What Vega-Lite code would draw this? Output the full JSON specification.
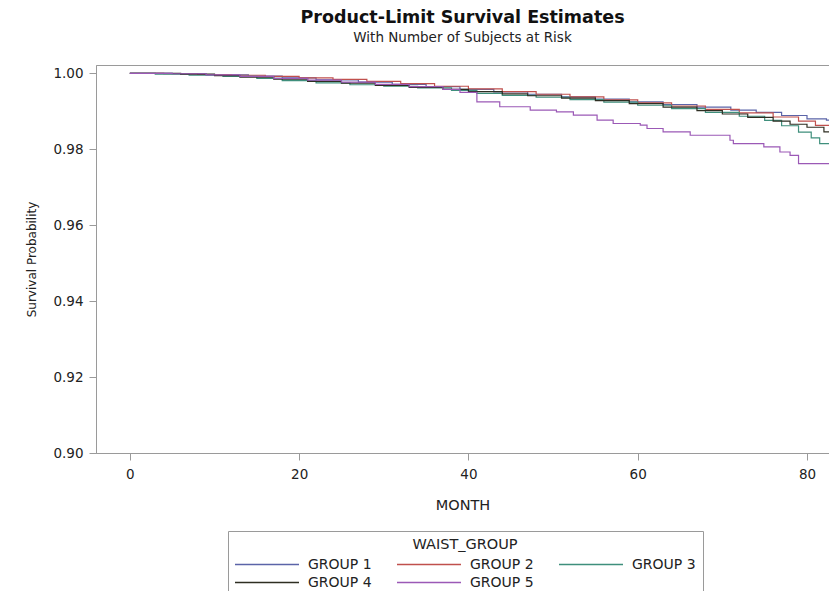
{
  "$schema": "https://vega.github.io/schema/vega-lite/v6.json",
  "autosize": "none",
  "width": 733,
  "height": 388,
  "padding": {"left": 96, "top": 65, "right": 0, "bottom": 138},
  "background": "white",
  "config": {
    "font": "DejaVu Sans",
    "view": {"stroke": "#9a9a9a", "strokeWidth": 1},
    "axis": {"grid": false, "domainColor": "#9a9a9a", "tickColor": "#9a9a9a", "labelColor": "#222", "titleColor": "#222", "labelFont": "DejaVu Sans", "titleFont": "DejaVu Sans", "titleFontWeight": "normal"}
  },
  "title": {
    "text": "Product-Limit Survival Estimates",
    "subtitle": "With Number of Subjects at Risk",
    "anchor": "middle",
    "fontSize": 17.5,
    "fontWeight": "bold",
    "subtitleFontSize": 13.5,
    "subtitleColor": "#222",
    "color": "#111",
    "offset": 21,
    "subtitlePadding": 4
  },
  "data": {"values": [
    {"g": "GROUP 1", "m": 0, "s": 1.0}, {"g": "GROUP 1", "m": 5, "s": 0.9999}, {"g": "GROUP 1", "m": 9, "s": 0.9996}, {"g": "GROUP 1", "m": 14, "s": 0.9993}, {"g": "GROUP 1", "m": 18, "s": 0.9988}, {"g": "GROUP 1", "m": 22, "s": 0.9983}, {"g": "GROUP 1", "m": 27, "s": 0.9977}, {"g": "GROUP 1", "m": 31, "s": 0.9971}, {"g": "GROUP 1", "m": 35, "s": 0.9965}, {"g": "GROUP 1", "m": 39, "s": 0.9958}, {"g": "GROUP 1", "m": 43, "s": 0.9951}, {"g": "GROUP 1", "m": 47, "s": 0.9945}, {"g": "GROUP 1", "m": 51, "s": 0.9938}, {"g": "GROUP 1", "m": 55, "s": 0.9932}, {"g": "GROUP 1", "m": 59, "s": 0.9925}, {"g": "GROUP 1", "m": 63, "s": 0.9918}, {"g": "GROUP 1", "m": 67, "s": 0.9911}, {"g": "GROUP 1", "m": 71, "s": 0.9903}, {"g": "GROUP 1", "m": 74, "s": 0.9897}, {"g": "GROUP 1", "m": 77, "s": 0.9889}, {"g": "GROUP 1", "m": 80, "s": 0.988}, {"g": "GROUP 1", "m": 82.3, "s": 0.9877}, {"g": "GROUP 1", "m": 83, "s": 0.9877},
    {"g": "GROUP 2", "m": 0, "s": 1.0}, {"g": "GROUP 2", "m": 4, "s": 0.9999}, {"g": "GROUP 2", "m": 8, "s": 0.9997}, {"g": "GROUP 2", "m": 12, "s": 0.9995}, {"g": "GROUP 2", "m": 16, "s": 0.9992}, {"g": "GROUP 2", "m": 20, "s": 0.9988}, {"g": "GROUP 2", "m": 24, "s": 0.9984}, {"g": "GROUP 2", "m": 28, "s": 0.9979}, {"g": "GROUP 2", "m": 32, "s": 0.9973}, {"g": "GROUP 2", "m": 36, "s": 0.9966}, {"g": "GROUP 2", "m": 40, "s": 0.9959}, {"g": "GROUP 2", "m": 44, "s": 0.9952}, {"g": "GROUP 2", "m": 48, "s": 0.9945}, {"g": "GROUP 2", "m": 52, "s": 0.9938}, {"g": "GROUP 2", "m": 56, "s": 0.993}, {"g": "GROUP 2", "m": 60, "s": 0.9922}, {"g": "GROUP 2", "m": 64, "s": 0.9914}, {"g": "GROUP 2", "m": 68, "s": 0.9905}, {"g": "GROUP 2", "m": 72, "s": 0.9896}, {"g": "GROUP 2", "m": 76, "s": 0.9885}, {"g": "GROUP 2", "m": 79, "s": 0.9874}, {"g": "GROUP 2", "m": 81, "s": 0.9863}, {"g": "GROUP 2", "m": 83, "s": 0.9863},
    {"g": "GROUP 3", "m": 0, "s": 1.0}, {"g": "GROUP 3", "m": 3, "s": 0.9998}, {"g": "GROUP 3", "m": 7, "s": 0.9995}, {"g": "GROUP 3", "m": 11, "s": 0.9992}, {"g": "GROUP 3", "m": 15, "s": 0.9987}, {"g": "GROUP 3", "m": 18, "s": 0.9981}, {"g": "GROUP 3", "m": 22, "s": 0.9975}, {"g": "GROUP 3", "m": 26, "s": 0.997}, {"g": "GROUP 3", "m": 30, "s": 0.9966}, {"g": "GROUP 3", "m": 34, "s": 0.9962}, {"g": "GROUP 3", "m": 38, "s": 0.9955}, {"g": "GROUP 3", "m": 41, "s": 0.9947}, {"g": "GROUP 3", "m": 44, "s": 0.9942}, {"g": "GROUP 3", "m": 48, "s": 0.9937}, {"g": "GROUP 3", "m": 52, "s": 0.9931}, {"g": "GROUP 3", "m": 56, "s": 0.9924}, {"g": "GROUP 3", "m": 60, "s": 0.9916}, {"g": "GROUP 3", "m": 64, "s": 0.9907}, {"g": "GROUP 3", "m": 68, "s": 0.9897}, {"g": "GROUP 3", "m": 72, "s": 0.9887}, {"g": "GROUP 3", "m": 75, "s": 0.9876}, {"g": "GROUP 3", "m": 77, "s": 0.9862}, {"g": "GROUP 3", "m": 79, "s": 0.9845}, {"g": "GROUP 3", "m": 80.5, "s": 0.983}, {"g": "GROUP 3", "m": 81.5, "s": 0.9815}, {"g": "GROUP 3", "m": 83, "s": 0.9815},
    {"g": "GROUP 4", "m": 0, "s": 1.0}, {"g": "GROUP 4", "m": 6, "s": 0.9998}, {"g": "GROUP 4", "m": 10, "s": 0.9994}, {"g": "GROUP 4", "m": 13, "s": 0.999}, {"g": "GROUP 4", "m": 17, "s": 0.9985}, {"g": "GROUP 4", "m": 21, "s": 0.9979}, {"g": "GROUP 4", "m": 25, "s": 0.9974}, {"g": "GROUP 4", "m": 29, "s": 0.9968}, {"g": "GROUP 4", "m": 33, "s": 0.9963}, {"g": "GROUP 4", "m": 37, "s": 0.9958}, {"g": "GROUP 4", "m": 40, "s": 0.9952}, {"g": "GROUP 4", "m": 44, "s": 0.9946}, {"g": "GROUP 4", "m": 47, "s": 0.9941}, {"g": "GROUP 4", "m": 51, "s": 0.9935}, {"g": "GROUP 4", "m": 55, "s": 0.9928}, {"g": "GROUP 4", "m": 59, "s": 0.992}, {"g": "GROUP 4", "m": 63, "s": 0.9911}, {"g": "GROUP 4", "m": 67, "s": 0.9902}, {"g": "GROUP 4", "m": 70, "s": 0.9893}, {"g": "GROUP 4", "m": 73, "s": 0.9884}, {"g": "GROUP 4", "m": 76, "s": 0.9874}, {"g": "GROUP 4", "m": 78, "s": 0.9866}, {"g": "GROUP 4", "m": 80, "s": 0.9858}, {"g": "GROUP 4", "m": 82, "s": 0.9846}, {"g": "GROUP 4", "m": 83, "s": 0.9846},
    {"g": "GROUP 5", "m": 0, "s": 1.0}, {"g": "GROUP 5", "m": 5, "s": 0.9999}, {"g": "GROUP 5", "m": 9, "s": 0.9996}, {"g": "GROUP 5", "m": 13, "s": 0.9992}, {"g": "GROUP 5", "m": 17, "s": 0.9987}, {"g": "GROUP 5", "m": 21, "s": 0.9982}, {"g": "GROUP 5", "m": 25, "s": 0.9977}, {"g": "GROUP 5", "m": 29, "s": 0.9971}, {"g": "GROUP 5", "m": 33, "s": 0.9965}, {"g": "GROUP 5", "m": 37, "s": 0.9958}, {"g": "GROUP 5", "m": 39, "s": 0.995}, {"g": "GROUP 5", "m": 41, "s": 0.9925}, {"g": "GROUP 5", "m": 43.7, "s": 0.9912}, {"g": "GROUP 5", "m": 47.3, "s": 0.9903}, {"g": "GROUP 5", "m": 50.4, "s": 0.98985}, {"g": "GROUP 5", "m": 52.4, "s": 0.989}, {"g": "GROUP 5", "m": 55.2, "s": 0.98766}, {"g": "GROUP 5", "m": 57.1, "s": 0.98679}, {"g": "GROUP 5", "m": 60.3, "s": 0.98634}, {"g": "GROUP 5", "m": 61.1, "s": 0.98547}, {"g": "GROUP 5", "m": 63, "s": 0.98457}, {"g": "GROUP 5", "m": 66.2, "s": 0.9837}, {"g": "GROUP 5", "m": 70.9, "s": 0.98238}, {"g": "GROUP 5", "m": 71.3, "s": 0.98151}, {"g": "GROUP 5", "m": 74.9, "s": 0.98061}, {"g": "GROUP 5", "m": 76.8, "s": 0.97929}, {"g": "GROUP 5", "m": 78, "s": 0.97842}, {"g": "GROUP 5", "m": 79, "s": 0.97622}, {"g": "GROUP 5", "m": 83, "s": 0.97622}
  ]},
  "mark": {"type": "line", "interpolate": "step-after", "strokeWidth": 1.2, "clip": true},
  "encoding": {
    "x": {"field": "m", "type": "quantitative", "title": "MONTH",
      "scale": {"domain": [-4, 82.6], "nice": false, "zero": false},
      "axis": {"values": [0, 20, 40, 60, 80], "tickSize": 7, "labelPadding": 7, "labelFontSize": 13.5, "titleFontSize": 14.5, "titlePadding": 18}},
    "y": {"field": "s", "type": "quantitative", "title": "Survival Probability",
      "scale": {"domain": [0.9, 1.0022], "nice": false, "zero": false},
      "axis": {"values": [0.9, 0.92, 0.94, 0.96, 0.98, 1.0], "format": ".2f", "tickSize": 7, "labelPadding": 6, "labelFontSize": 13.5, "titleFontSize": 12, "titlePadding": 14}},
    "color": {"field": "g", "type": "nominal", "title": "WAIST_GROUP",
      "scale": {"domain": ["GROUP 1", "GROUP 2", "GROUP 3", "GROUP 4", "GROUP 5"], "range": ["#5b64a8", "#c0504d", "#3f8f7c", "#2e2e22", "#9b59b6"]},
      "legend": {"orient": "none", "legendX": 132, "legendY": 466, "direction": "horizontal", "columns": 3, "columnPadding": 22, "rowPadding": 2,
        "strokeColor": "#9a9a9a", "padding": 7, "titleAnchor": "middle", "titleFontWeight": "normal", "titleFontSize": 14.5, "titleColor": "#222", "titlePadding": 3,
        "labelFontSize": 14, "labelColor": "#222", "symbolType": "M-4,0H4", "symbolSize": 256, "symbolStrokeWidth": 1.5, "symbolOffset": 23, "labelOffset": 32}}
  }
}
